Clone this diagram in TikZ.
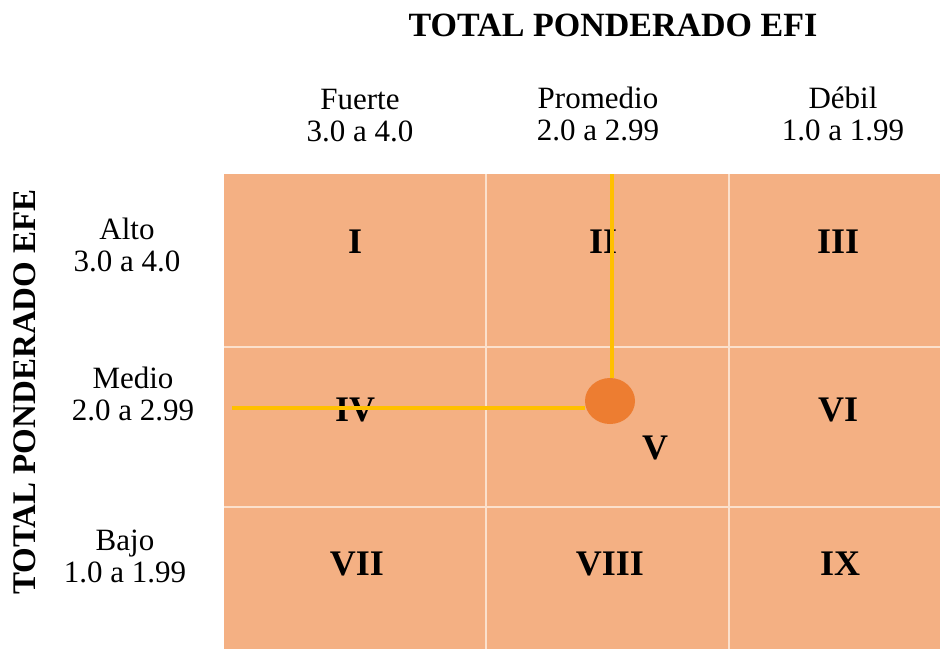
\documentclass[tikz,border=0pt]{standalone}
\usepackage{fontspec}
\setmainfont{Liberation Serif}
\usetikzlibrary{positioning,shapes.geometric}
\definecolor{celda}{HTML}{F4B083}
\definecolor{punto}{HTML}{ED7D31}
\definecolor{guia}{HTML}{FFC000}
\definecolor{rejilla}{HTML}{FBE0CC}

\begin{document}
\begin{tikzpicture}[x=0.5pt, y=-0.5pt,
      font=\fontsize{15.5}{16}\selectfont,
      lbl/.style={align=center, inner sep=0pt},
      num/.style={font=\fontsize{18}{20}\selectfont\bfseries, inner sep=0pt},
      tit/.style={font=\fontsize{17}{20}\selectfont\bfseries, inner sep=0pt},
      guide/.style={guia, line width=2pt}]
    \useasboundingbox (0,0) rectangle (940,649);
    % matriz
    \fill[celda] (224,174) rectangle (940,649);
    \draw[rejilla, line width=1pt] (486,174) -- (486,649) (729,174) -- (729,649)
      (224,347) -- (940,347) (224,507) -- (940,507);
    % titulos
    \node[tit] (efi) at (613,25) {TOTAL PONDERADO EFI};
    \node[tit, rotate=90, font=\fontsize{16.5}{20}\selectfont\bfseries] (efe) at (25,392) {TOTAL PONDERADO EFE};
    \node[lbl] (fuerte) at (360,116) {Fuerte\\3.0 a 4.0};
    \node[lbl] (prom) at (598,114) {Promedio\\2.0 a 2.99};
    \node[lbl] (debil) at (843,114) {Débil\\1.0 a 1.99};
    \node[lbl] (alto) at (127,245) {Alto\\3.0 a 4.0};
    \node[lbl] (medio) at (133,394) {Medio\\2.0 a 2.99};
    \node[lbl] (bajo) at (125,556) {Bajo\\1.0 a 1.99};
    % cuadrantes
    \node[num] (c1) at (355,242) {I};
    \node[num] (c2) at (603,242) {II};
    \node[num] (c3) at (838,242) {III};
    \node[num] (c4) at (355,410) {IV};
    \node[num] (c5) at (655,448) {V};
    \node[num] (c6) at (838,410) {VI};
    \node[num] (c7) at (357,564) {VII};
    \node[num] (c8) at (610,564) {VIII};
    \node[num] (c9) at (840,564) {IX};
    % resultado
    \node[ellipse, fill=punto, minimum width=25pt, minimum height=23pt, inner sep=0pt] (pt) at (610,401) {};
    \coordinate (v) at (612,174);
    \coordinate (h) at (232,408);
    \draw[guide] (v) -- (v |- pt.north);
    \draw[guide] (h) -- (pt.west |- h);
  \end{tikzpicture}
\end{document}
